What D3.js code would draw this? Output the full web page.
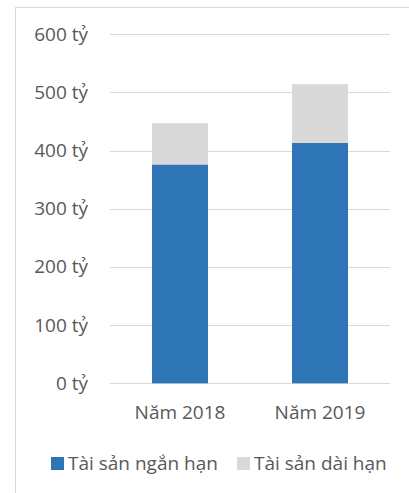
<!DOCTYPE html>
<html><head><meta charset="utf-8">
<script src="https://cdn.jsdelivr.net/npm/d3@7"></script>
<style>
html,body{margin:0;padding:0;background:#fff;}
text{font-family:"Open Sans",sans-serif;fill:#595959;}
</style></head>
<body>
<svg id="c" width="409" height="493"></svg>
<script>
const categories = ["Năm 2018", "Năm 2019"];
const shortTerm = [376, 413];
const longTerm = [71, 101];
const seriesNames = ["Tài sản ngắn hạn", "Tài sản dài hạn"];
const seriesColors = ["#2e75b6", "#d9d9d9"];
const yTicks = [0, 100, 200, 300, 400, 500, 600];
const tickSuffix = " tỷ";
const FS = "19px";

const svg = d3.select("#c");
svg.append("rect").attr("x", 15.5).attr("y", 7.5).attr("width", 420).attr("height", 520)
  .attr("fill", "none").attr("stroke", "#d9d9d9").attr("stroke-width", 1);

const x0 = 110, x1 = 390, yBottom = 383.3, yTop = 34.1;
const x = d3.scaleBand().domain(categories).range([x0, x1]).paddingInner(0.6).paddingOuter(0.3);
const y = d3.scaleLinear().domain([0, 600]).range([yBottom, yTop]);

svg.append("g").selectAll("line").data(yTicks).join("line")
  .attr("x1", x0).attr("x2", x1)
  .attr("y1", d => Math.round(y(d)) + 0.5).attr("y2", d => Math.round(y(d)) + 0.5)
  .attr("stroke", "#d9d9d9").attr("stroke-width", 1);

const yAxis = d3.axisLeft(y).tickValues(yTicks).tickFormat(d => d + tickSuffix).tickSize(0).tickPadding(0);
const ga = svg.append("g").attr("transform", `translate(88,0)`).call(yAxis);
ga.select(".domain").remove();
ga.selectAll("text").attr("font-size", FS).attr("fill", "#595959").style("font-family", "Open Sans");

const data = categories.map((c, i) => ({cat: c, s0: shortTerm[i], s1: longTerm[i]}));
const layers = d3.stack().keys(["s0", "s1"])(data);
svg.append("g").selectAll("g").data(layers).join("g")
  .attr("fill", (d, i) => seriesColors[i])
  .selectAll("rect").data(d => d).join("rect")
  .attr("x", d => x(d.data.cat)).attr("width", x.bandwidth())
  .attr("y", d => y(d[1])).attr("height", d => y(d[0]) - y(d[1]));

const xAxis = d3.axisBottom(x).tickSize(0).tickPadding(0);
const gx = svg.append("g").attr("transform", `translate(0,${yBottom})`).call(xAxis);
gx.select(".domain").remove();
gx.selectAll("text").attr("dy", null).attr("y", 36).attr("font-size", FS).attr("fill", "#595959").style("font-family", "Open Sans");

const legX = [51, 237];
const lg = svg.append("g").selectAll("g").data(seriesNames).join("g")
  .attr("transform", (d, i) => `translate(${legX[i]},457)`);
lg.append("rect").attr("width", 13).attr("height", 13).attr("fill", (d, i) => seriesColors[i]);
lg.append("text").attr("x", 17).attr("y", 13).attr("font-size", FS).text(d => d);
</script>
</body></html>
